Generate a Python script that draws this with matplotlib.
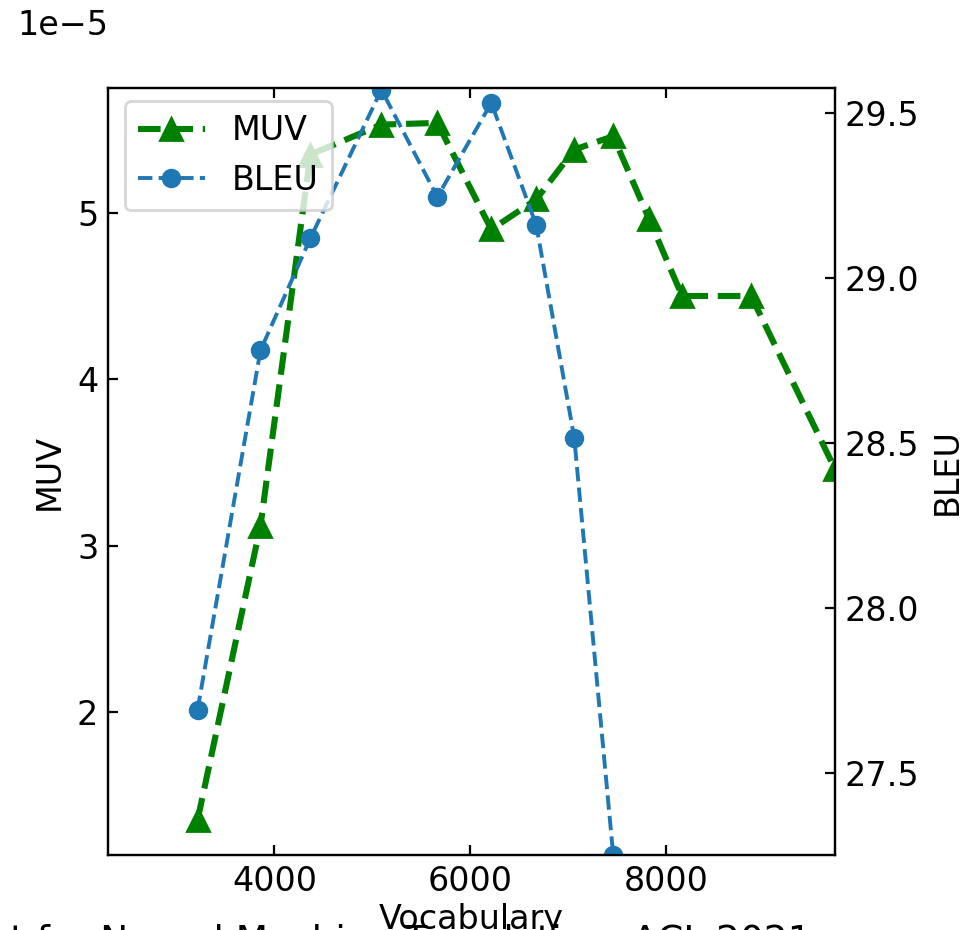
import numpy as np
import matplotlib
matplotlib.use("Agg")
import matplotlib.pyplot as plt

# ======================================================================
# Data
# ======================================================================
vocab_muv = [3214, 3857, 4367, 5092, 5663, 6214, 6673, 7061, 7459, 7827, 8163, 8867, 9724]
muv = [1.35e-5, 3.12e-5, 5.35e-5, 5.53e-5, 5.54e-5, 4.90e-5, 5.08e-5,
       5.38e-5, 5.46e-5, 4.96e-5, 4.50e-5, 4.50e-5, 3.46e-5]

vocab_bleu = [3214, 3857, 4367, 5092, 5663, 6214, 6673, 7061, 7459]
bleu = [27.69, 28.78, 29.12, 29.57, 29.245, 29.53, 29.16, 28.515, 27.25]

caption = "Vocabulary Learning via Optimal Transport for Neural Machine Translation, ACL 2021"

plt.rcParams['font.size'] = 12

# ======================================================================
# Plot
# ======================================================================
fig = plt.figure(figsize=(4.84, 4.65), dpi=200)
ax1 = fig.add_axes([0.1116, 0.0806, 0.7510, 0.8247])

l1, = ax1.plot(vocab_muv, muv, '--', color='green', marker='^', lw=2.2,
               markersize=8, label='MUV')
ax1.set_xlim(2300, 9724)
ax1.set_ylabel('MUV')
ax1.set_xlabel('Vocabulary', labelpad=2)
ax1.tick_params(direction='in', top=True, labelsize=12)

ax2 = ax1.twinx()
l2, = ax2.plot(vocab_bleu, bleu, '--', color='#1f77b4', marker='o', lw=1.4,
               markersize=6, label='BLEU')
ax2.set_ylim(27.25, 29.575)
ax2.set_yticks([27.5, 28.0, 28.5, 29.0, 29.5])
ax2.set_ylabel('BLEU')
ax2.tick_params(direction='in', labelsize=12)

# twinx resets the offset text, so hide it afterwards
ax1.yaxis.get_offset_text().set_visible(False)

ax2.legend([l1, l2], ['MUV', 'BLEU'], loc='upper left', fontsize=12,
           bbox_to_anchor=(0.0, 1.005))

# offset label placed where the reference shows it
fig.text(0.018, 0.973, '1e\u22125', fontsize=12, va='center', ha='left')

# caption running off the bottom edge
fig.text(0.838, -0.032, caption, fontsize=13.5, ha='right', va='bottom')

fig.savefig('out.png', dpi=200)
